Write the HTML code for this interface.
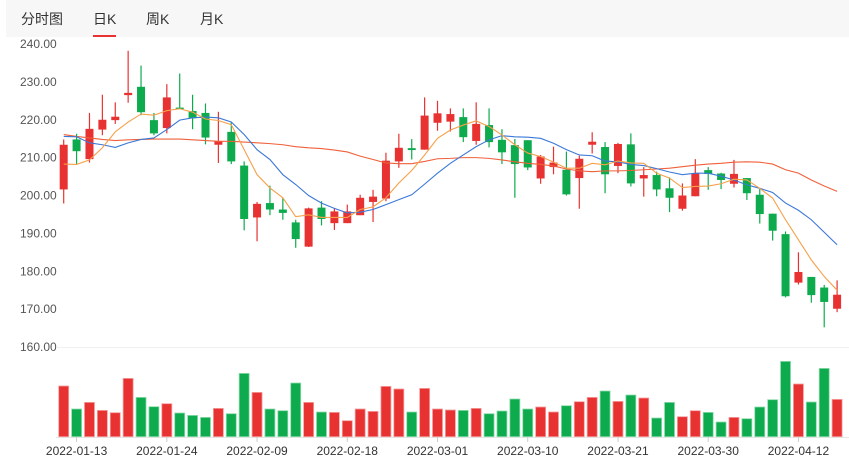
<!DOCTYPE html>
<html><head><meta charset="utf-8">
<style>
body{margin:0;background:#fff;font-family:"Liberation Sans","Noto Sans CJK SC",sans-serif;}
#wrap{position:relative;width:849px;height:457px;overflow:hidden;}
#tabs{position:absolute;left:6px;top:0;width:843px;height:37px;background:#f7f7f7;}
.tab{position:absolute;top:9px;font-size:14px;color:#333;cursor:pointer;}
#uline{position:absolute;left:93px;top:35px;width:23px;height:2px;background:#e83232;}
svg{position:absolute;left:0;top:0;}
</style></head><body>
<div id="wrap">
<div id="tabs">
<span class="tab" style="left:15px">分时图</span>
<span class="tab" style="left:87px">日K</span>
<span class="tab" style="left:140px">周K</span>
<span class="tab" style="left:194px">月K</span>
</div>
<div id="uline"></div>
<svg id="chart" width="849" height="457"></svg>
</div>
<script>
const dates=["2022-01-12","2022-01-13","2022-01-14","2022-01-17","2022-01-18","2022-01-19","2022-01-20","2022-01-21","2022-01-24","2022-01-25","2022-01-26","2022-01-27","2022-01-28","2022-02-07","2022-02-08","2022-02-09","2022-02-10","2022-02-11","2022-02-14","2022-02-15","2022-02-16","2022-02-17","2022-02-18","2022-02-21","2022-02-22","2022-02-23","2022-02-24","2022-02-25","2022-02-28","2022-03-01","2022-03-02","2022-03-03","2022-03-04","2022-03-07","2022-03-08","2022-03-09","2022-03-10","2022-03-11","2022-03-14","2022-03-15","2022-03-16","2022-03-17","2022-03-18","2022-03-21","2022-03-22","2022-03-23","2022-03-24","2022-03-25","2022-03-28","2022-03-29","2022-03-30","2022-03-31","2022-04-01","2022-04-06","2022-04-07","2022-04-08","2022-04-11","2022-04-12","2022-04-13","2022-04-14","2022-04-15"];
const openP=[201.6,214.8,209.6,217.4,219.9,226.5,228.7,219.9,217.8,223.2,222.3,221.8,213.4,216.8,207.9,194.2,198.0,196.3,192.9,186.5,196.8,192.7,192.7,194.8,198.3,199.2,209.0,212.5,212.1,219.2,219.5,220.7,214.4,218.6,214.7,213.3,214.6,204.5,207.5,206.8,204.6,213.4,212.8,207.8,213.5,204.5,205.4,201.9,196.5,199.8,206.7,205.8,203.1,204.6,200.2,195.2,189.8,177.0,178.5,175.7,170.1];
const closeP=[213.4,211.7,217.6,220.0,220.8,227.1,222.0,216.4,225.9,222.8,220.4,215.3,214.3,209.0,193.8,197.8,196.3,195.4,188.5,196.6,193.8,195.8,195.8,199.4,199.7,209.2,212.6,212.0,221.1,221.7,221.5,215.4,218.9,214.1,211.4,208.3,207.4,210.3,208.7,200.3,209.7,214.2,205.6,213.6,203.2,205.4,201.6,199.4,200.0,205.8,205.7,204.1,205.7,200.6,195.1,190.7,173.4,179.8,173.7,171.9,173.8];
const highP=[214.8,216.3,221.8,226.6,224.6,238.2,234.3,221.8,229.4,232.2,226.6,224.3,222.1,219.4,209.0,198.3,202.6,199.4,193.6,196.8,198.5,196.7,197.6,200.2,201.5,211.3,216.3,214.9,225.9,225.0,223.0,223.0,224.6,223.0,217.5,214.9,214.6,210.7,212.9,211.6,210.5,216.7,214.1,213.9,216.4,207.5,206.3,204.8,203.2,209.6,207.5,206.0,209.4,204.6,201.7,195.2,190.5,185.0,178.5,176.4,177.6];
const lowP=[197.9,208.3,208.7,215.9,218.9,224.5,221.2,215.9,216.4,222.8,217.5,213.5,208.6,208.3,190.8,187.9,194.8,193.6,186.2,186.4,192.1,190.9,192.7,194.8,193.0,198.5,207.3,209.5,212.1,217.1,216.9,214.1,213.4,212.7,208.3,199.4,206.7,203.1,205.6,200.0,196.5,211.1,200.6,205.9,202.4,199.7,199.8,195.6,196.0,199.8,201.5,201.7,202.1,198.8,192.6,188.1,173.1,176.5,171.7,165.2,169.2];
const ma5=[208.3,208.2,209.4,212.6,216.8,219.4,221.5,221.2,222.4,222.9,222.0,220.2,219.8,218.7,212.1,205.5,202.0,199.4,194.4,194.9,194.2,194.2,194.2,196.3,197.0,199.4,203.3,206.6,210.7,215.1,217.3,218.6,219.7,218.2,216.0,213.4,211.2,210.3,208.8,207.2,207.2,208.5,208.1,209.1,208.6,208.5,205.9,204.6,202.1,202.4,202.5,203.1,204.3,204.1,201.9,199.3,193.6,188.3,183.0,178.6,175.0];
const ma10=[215.6,215.5,213.9,213.4,212.7,213.9,214.8,215.2,217.4,219.9,220.5,220.7,220.5,219.4,216.1,212.1,209.5,205.5,202.9,200.0,198.0,196.6,195.4,195.6,196.3,197.6,198.9,200.2,203.0,205.9,208.5,210.7,212.9,214.7,215.8,215.5,215.4,215.1,213.8,212.1,210.7,210.5,209.1,208.9,208.2,207.9,207.1,206.2,205.5,205.9,205.9,205.1,204.1,202.8,201.9,200.8,198.0,196.1,193.6,190.3,187.0];
const ma20=[216.1,215.6,215.2,214.8,214.5,214.7,214.8,214.9,214.9,214.9,214.7,214.5,214.3,214.3,214.1,213.9,213.7,213.4,212.9,212.6,212.4,212.0,211.5,210.4,209.5,208.6,208.4,208.4,209.0,209.7,209.8,210.0,210.0,209.8,209.4,208.9,208.5,208.2,207.8,207.0,206.5,206.3,206.5,206.5,206.6,206.8,207.0,207.2,207.6,208.0,208.3,208.5,208.8,208.9,208.8,208.3,206.8,205.9,204.1,202.5,201.1];
const volume=[50.7,27.7,34.3,26.3,24,58.3,39.3,30,33,23.7,21.3,19.3,28.3,23,63.3,44.3,27.7,26,53.7,34.3,24.7,24.3,16,27.7,25.3,50.3,47.7,24.7,48.3,27.7,26.7,26.3,28.3,23,25.7,37.7,27.7,29.7,24.7,31,35,39.3,45.7,35.3,41.7,38.7,18.7,34.3,20,26,24.3,14.7,19.3,18,29.7,37,75.3,52.7,34.7,68.3,37.3];
const yTicks=[240,230,220,210,200,190,180,170,160];
const xTickIdx=[1,8,15,22,29,36,43,50,57];

const svg=document.getElementById('chart');
const NS='http://www.w3.org/2000/svg';
const RED='#e83232',GREEN='#0dab4d';
function xS(i){return 63.7+i*12.89;}
function yS(p){return 44+(240-p)*3.7875;}
const volBase=436.7;
function vS(v){return volBase-v;}
function mk(tag,attrs,name){const e=document.createElementNS(NS,tag);for(const k in attrs)e.setAttribute(k,attrs[k]);


svg.appendChild(e);return e;}

yTicks.forEach(t=>{
 const tx=mk('text',{x:20,y:yS(t)+4,'font-size':12,fill:'#555','font-family':'Liberation Sans, sans-serif'},'y-tick-label');
 tx.textContent=t.toFixed(2);
});
mk('line',{x1:56,x2:849,y1:yS(160)+0.5,y2:yS(160)+0.5,stroke:'#f0f0f0'},'price-baseline');
mk('line',{x1:56,x2:849,y1:437.5,y2:437.5,stroke:'#e6e6e6'},'x-axis-line');
xTickIdx.forEach(i=>{
 mk('line',{x1:xS(i),x2:xS(i),y1:437,y2:442,stroke:'#ccc'},'x-tick');
 const tx=mk('text',{x:xS(i),y:455,'font-size':12,fill:'#333','text-anchor':'middle','font-family':'Liberation Sans, sans-serif'},'x-tick-label');
 tx.textContent=dates[i];
});
for(let i=0;i<dates.length;i++){
 const up=closeP[i]>=openP[i];const c=up?RED:GREEN;const x=xS(i);
 mk('line',{x1:x,x2:x,y1:yS(highP[i]),y2:yS(lowP[i]),stroke:c,'stroke-width':1.2},'candle-wick');
 const t=yS(Math.max(openP[i],closeP[i])),b=yS(Math.min(openP[i],closeP[i]));
 mk('rect',{x:x-4,y:t,width:8,height:Math.max(1.5,b-t),fill:c},'candle-body');
 mk('rect',{x:x-5,y:vS(volume[i]),width:10,height:volume[i],fill:c,stroke:up?'#f4a0a0':'#8fdcae','stroke-width':0.8},'volume-bar');
}
function line(arr,color,name){
 mk('polyline',{points:arr.map((v,i)=>xS(i)+','+yS(v)).join(' '),fill:'none',stroke:color,'stroke-width':1.1},name);
}
line(ma20,'#f0603a','ma20-line');
line(ma10,'#3b78d8','ma10-line');
line(ma5,'#f7a04a','ma5-line');
</script>
</body></html>
